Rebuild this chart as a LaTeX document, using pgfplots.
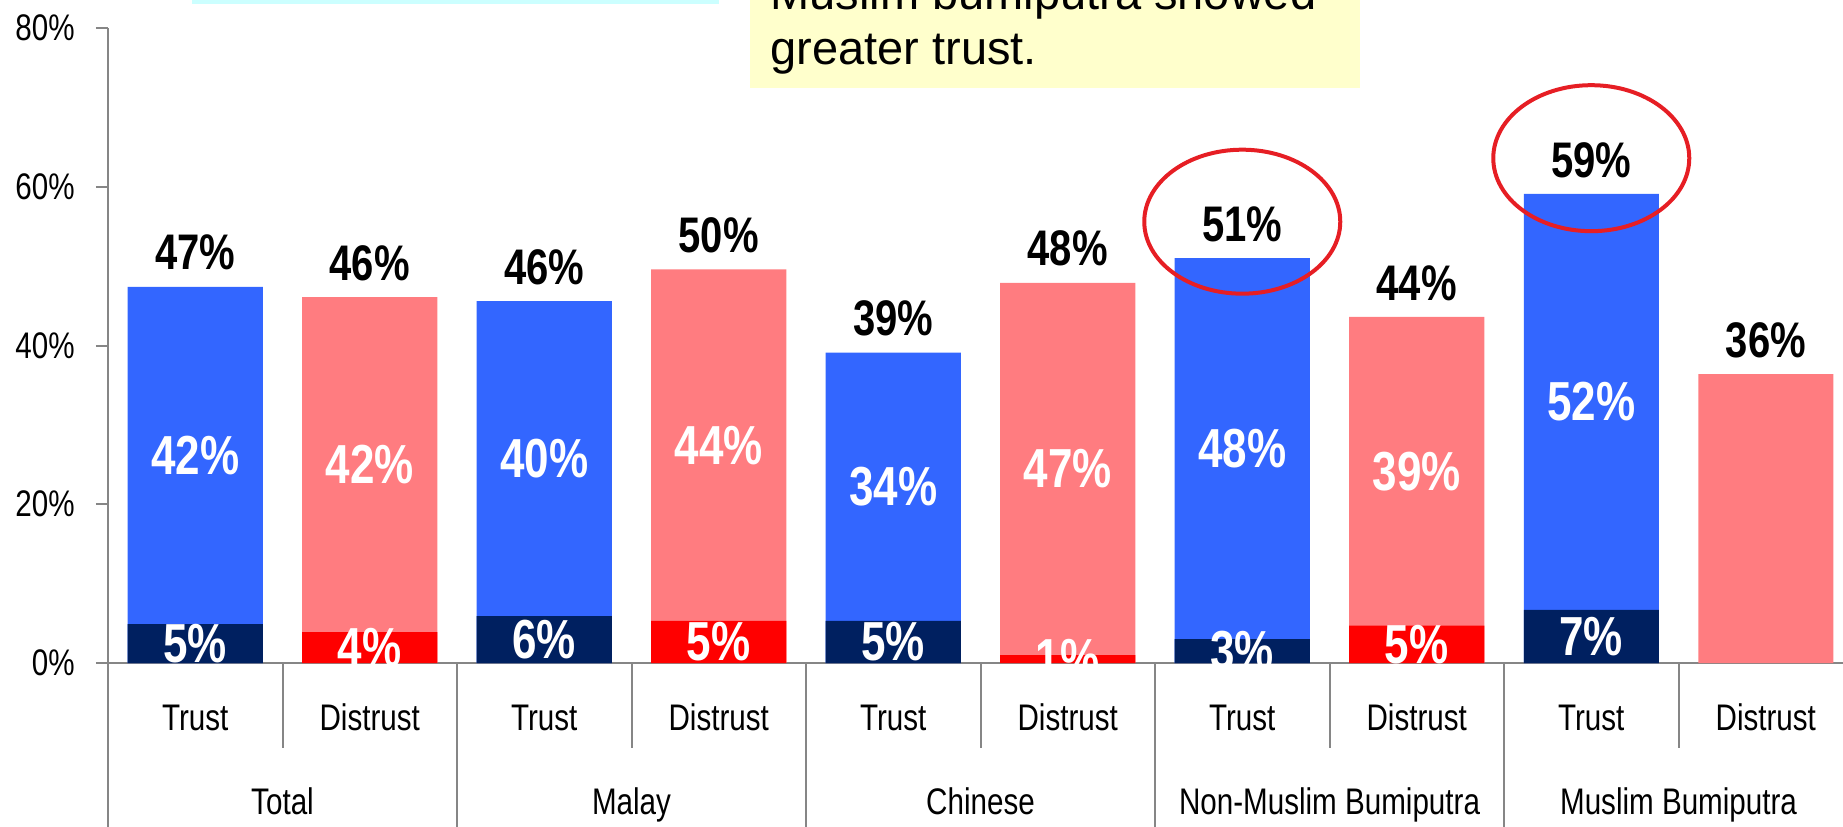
\documentclass[border=0pt]{standalone}
\usepackage{fontspec}
\setmainfont[FakeStretch=0.8]{Liberation Sans}
\newfontfamily\boxfont{Liberation Sans}
\usepackage{pgfplots}
\pgfplotsset{compat=1.18}
\definecolor{tblue}{RGB}{51,102,255}
\definecolor{tnavy}{RGB}{0,32,96}
\definecolor{dpink}{RGB}{255,124,128}
\definecolor{dred}{RGB}{255,0,0}
\definecolor{axgray}{RGB}{134,134,134}
\definecolor{boxyellow}{RGB}{255,255,204}
\definecolor{boxcyan}{RGB}{204,255,255}
\definecolor{circred}{RGB}{230,30,36}
\begin{document}
\begin{tikzpicture}
\useasboundingbox (-54pt,-81.5pt) rectangle (867.5pt,331.5pt);
\clip (-54pt,-81.5pt) rectangle (867.5pt,331.5pt);
\fill[boxcyan] (42pt,329.5pt) rectangle (305.5pt,360pt);
\fill[boxyellow] (321pt,287.5pt) rectangle (626pt,360pt);
\node[anchor=base west, inner sep=0pt, font=\boxfont\fontsize{23.5}{27.5}\selectfont] at (331pt,299pt) {greater trust.};
\node[anchor=base west, inner sep=0pt, font=\boxfont\fontsize{23.5}{27.5}\selectfont] at (331pt,326.5pt) {Muslim bumiputra showed};
\begin{axis}[
  at={(0,0)}, anchor=south west,
  scale only axis, width=867.5pt, height=317.5pt,
  xmin=-0.5, xmax=9.4427, ymin=0, ymax=80,
  axis x line=bottom, axis y line=left,
  axis line style={-, draw=axgray, line width=1pt},
  ybar, bar width=0.774, bar shift=0pt,
  ytick={0,20,40,60,80},
  yticklabels={0\%,20\%,40\%,60\%,80\%},
  ytick style={draw=axgray, line width=1pt},
  tick align=outside, major tick length=6pt,
  xtick={0,...,9},
  xticklabels={Trust,Distrust,Trust,Distrust,Trust,Distrust,Trust,Distrust,Trust,Distrust},
  xtick style={draw=none},
  tick label style={font=\fontsize{18.5}{22}\selectfont},
  xticklabel style={anchor=base, inner sep=0pt, yshift=-27.5pt},
  yticklabel style={anchor=east, inner sep=0pt, xshift=-10.5pt},
  clip marker paths=true,
]
% totals
\addplot[fill=tblue, draw=none, bar shift=0pt, nodes near coords, point meta=explicit symbolic,
  every node near coord/.append style={black, font=\bfseries\fontsize{25}{30}\selectfont, anchor=south, inner sep=0pt, yshift=8pt}]
  coordinates {(0,47.4) [47\%] (2,45.6) [46\%] (4,39.1) [39\%] (6,51.0) [51\%] (8,59.1) [59\%]};
\addplot[fill=dpink, draw=none, bar shift=0pt, nodes near coords, point meta=explicit symbolic,
  every node near coord/.append style={black, font=\bfseries\fontsize{25}{30}\selectfont, anchor=south, inner sep=0pt, yshift=8pt}]
  coordinates {(1,46.1) [46\%] (3,49.6) [50\%] (5,47.9) [48\%] (7,43.6) [44\%] (9,36.4) [36\%]};
% bottom segments
\addplot[fill=tnavy, draw=none, bar shift=0pt] coordinates {(0,4.9) (2,5.9) (4,5.3) (6,3.0) (8,6.7)};
\addplot[fill=dred, draw=none, bar shift=0pt] coordinates {(1,3.9) (3,5.3) (5,1.0) (7,4.7)};
% inside labels
\addplot[draw=none, fill=none, bar shift=0pt, nodes near coords, point meta=explicit symbolic,
  nodes near coords align=center,
  every node near coord/.append style={white, font=\bfseries\fontsize{27.5}{32}\selectfont, anchor=center, inner sep=0pt}]
  coordinates {(0,26.15) [42\%] (1,25.0) [42\%] (2,25.75) [40\%] (3,27.45) [44\%] (4,22.2) [34\%]
               (5,24.45) [47\%] (6,27.0) [48\%] (7,24.15) [39\%] (8,32.9) [52\%]
               (0,2.45) [5\%] (1,1.95) [4\%] (2,2.95) [6\%] (3,2.65) [5\%] (4,2.65) [5\%]
               (5,0.5) [1\%] (6,1.5) [3\%] (7,2.35) [5\%] (8,3.35) [7\%]};
\coordinate (s0) at (axis cs:-0.5,0);
\coordinate (s1) at (axis cs:0.5,0);
\coordinate (s2) at (axis cs:1.5,0);
\coordinate (s3) at (axis cs:2.5,0);
\coordinate (s4) at (axis cs:3.5,0);
\coordinate (s5) at (axis cs:4.5,0);
\coordinate (s6) at (axis cs:5.5,0);
\coordinate (s7) at (axis cs:6.5,0);
\coordinate (s8) at (axis cs:7.5,0);
\coordinate (s9) at (axis cs:8.5,0);
\coordinate (e1) at (axis cs:6,55.6);
\coordinate (e2) at (axis cs:8,63.6);
\end{axis}
\foreach \i in {0,2,4,6,8} \draw[axgray, line width=1pt] (s\i) -- ++(0,-90pt);
\foreach \i in {1,3,5,7,9} \draw[axgray, line width=1pt] (s\i) -- ++(0,-42.5pt);
\foreach \i/\t in {1/Total,3/Malay,5/Chinese,7/Non-Muslim Bumiputra,9/Muslim Bumiputra}
  \node[anchor=base, inner sep=0pt, font=\fontsize{18.5}{22}\selectfont] at ([yshift=-75.5pt]s\i) {\t};
\draw[circred, line width=2pt] (e1) ellipse [x radius=49pt, y radius=36pt];
\draw[circred, line width=2pt] (e2) ellipse [x radius=49pt, y radius=36.5pt];
\end{tikzpicture}
\end{document}
